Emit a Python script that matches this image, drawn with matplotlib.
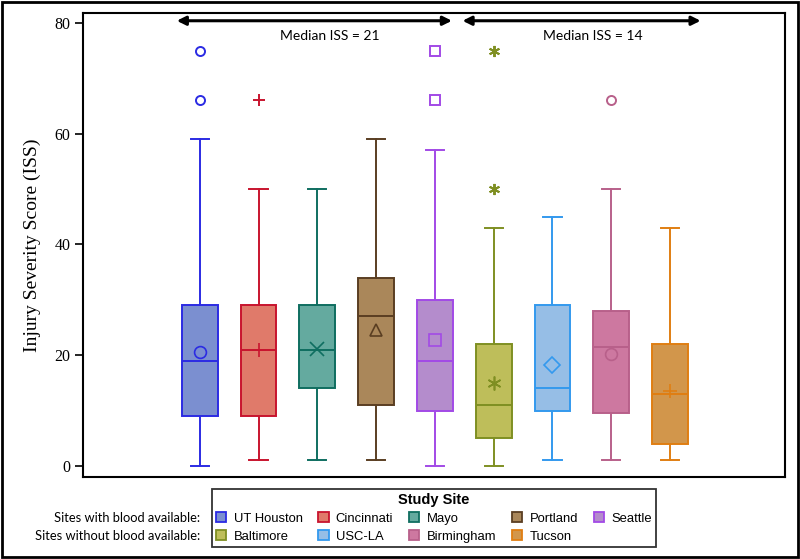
import matplotlib
matplotlib.use("Agg")
import matplotlib.pyplot as plt
from matplotlib.patches import Patch, Rectangle

sites = ["UT Houston", "Cincinnati", "Mayo", "Portland", "Seattle",
         "Baltimore", "USC-LA", "Birmingham", "Tucson"]
whislo = [0, 1, 1, 1, 0, 0, 1, 1, 1]
q1 = [9, 9, 14, 11, 10, 5, 10, 9.5, 4]
med = [19, 21, 21, 27, 19, 11, 14, 21.5, 13]
q3 = [29, 29, 29, 34, 30, 22, 29, 28, 22]
whishi = [59, 50, 50, 59, 57, 43, 45, 50, 43]
means = [20.5, 21, 21.2, 24.5, 22.8, 15, 18.3, 20.2, 13.5]
fliers = [[66, 75], [66], [], [], [66, 75], [50, 75], [], [66], []]

edge_colors = ["#2B2BE3", "#C8142E", "#0F6E60", "#5A3E22", "#A24AE6",
               "#7F8F22", "#3399EE", "#B8608A", "#E07E12"]
fill_colors = ["#7B8FD0", "#E07A6A", "#64AA9F", "#AA875A", "#B48CCC",
               "#BEBE5A", "#96BEE6", "#CD78A0", "#D2964B"]
markers = ["o", "+", "x", "^", "s", (6, 2, 0), "D", "o", "+"]

group_labels = ["Median ISS = 21", "Median ISS = 14"]
row_labels = ["Sites with blood available:", "Sites without blood available:"]

fig = plt.figure(figsize=(8.0, 5.59), dpi=100)
ax = fig.add_axes([83/800, 1-477/559, (785-83)/800, (477-13)/559])

positions = list(range(1, len(sites) + 1))
for i, s in enumerate(sites):
    st = [dict(whislo=whislo[i], q1=q1[i], med=med[i], q3=q3[i],
               whishi=whishi[i], mean=means[i], fliers=fliers[i], label=s)]
    ec = edge_colors[i]
    mk = markers[i]
    ms = 6.5 if mk not in ("+", "x", (6, 2, 0)) else 8
    ax.bxp(st, positions=[positions[i]], widths=0.61, patch_artist=True,
           showmeans=True, showfliers=True, capwidths=0.31,
           boxprops=dict(facecolor=fill_colors[i], edgecolor=ec, linewidth=1.4),
           medianprops=dict(color=ec, linewidth=1.4),
           whiskerprops=dict(color=ec, linewidth=1.4),
           capprops=dict(color=ec, linewidth=1.4),
           meanprops=dict(marker=mk, markerfacecolor="none", markeredgecolor=ec,
                          markersize=ms + 2, markeredgewidth=1.2, linestyle="none"),
           flierprops=dict(marker=mk, markerfacecolor="none", markeredgecolor=ec,
                           markersize=ms, markeredgewidth=1.4, linestyle="none"))

ax.set_xlim(-0.985, 10.955)
ax.set_ylim(-2.0, 81.8)
ax.set_xticks([])
ax.set_yticks([0, 20, 40, 60, 80])
ax.tick_params(axis="y", direction="out", length=6, width=1.2, labelsize=11.5,
               colors="black", pad=3)
for lab in ax.get_yticklabels():
    lab.set_fontfamily("Liberation Serif")
for sp in ax.spines.values():
    sp.set_linewidth(1.5)
    sp.set_color("black")
ax.set_ylabel("Injury Severity Score (ISS)", fontfamily="Liberation Serif",
              fontsize=14, labelpad=10)

# group arrows
ax.annotate("", xy=(0.61, 80.4), xytext=(5.29, 80.4),
            arrowprops=dict(arrowstyle="<|-|>", color="black", lw=2.2,
                            mutation_scale=13, shrinkA=0, shrinkB=0))
ax.annotate("", xy=(5.47, 80.4), xytext=(9.52, 80.4),
            arrowprops=dict(arrowstyle="<|-|>", color="black", lw=2.2,
                            mutation_scale=13, shrinkA=0, shrinkB=0))
ax.text(3.21, 77.6, group_labels[0], ha="center", va="center",
        fontfamily="Lato", fontsize=10)
ax.text(7.69, 77.6, group_labels[1], ha="center", va="center",
        fontfamily="Lato", fontsize=10)

# legend
order = [0, 5, 1, 6, 2, 7, 3, 8, 4]
handles = [Patch(facecolor=fill_colors[k], edgecolor=edge_colors[k], linewidth=1.3)
           for k in order]
labels = [sites[k] for k in order]
leg = fig.legend(handles, labels, ncol=5, loc="upper left",
                 bbox_to_anchor=(212/800, 1-489/559),
                 title="Study Site", frameon=True, fancybox=False,
                 prop=dict(family="Liberation Sans", size=9.4),
                 handlelength=0.8, handleheight=0.8, handletextpad=0.55,
                 columnspacing=1.2, labelspacing=0.42, borderpad=0.3,
                 borderaxespad=0)
leg.get_title().set_fontweight("bold")
leg.get_title().set_fontfamily("Liberation Sans")
leg.get_title().set_fontsize(10.5)
leg.get_frame().set_edgecolor("black")
leg.get_frame().set_linewidth(1.3)

fig.text(200/800, 1-517.7/559, row_labels[0], ha="right", va="center",
         fontfamily="Lato", fontsize=9.3)
fig.text(200/800, 1-536.5/559, row_labels[1], ha="right", va="center",
         fontfamily="Lato", fontsize=9.3)

# outer border
fig.patches.append(Rectangle((0.002, 0.003), 0.996, 0.994, transform=fig.transFigure,
                             fill=False, edgecolor="black", linewidth=2))

fig.savefig("out.png", dpi=100)
